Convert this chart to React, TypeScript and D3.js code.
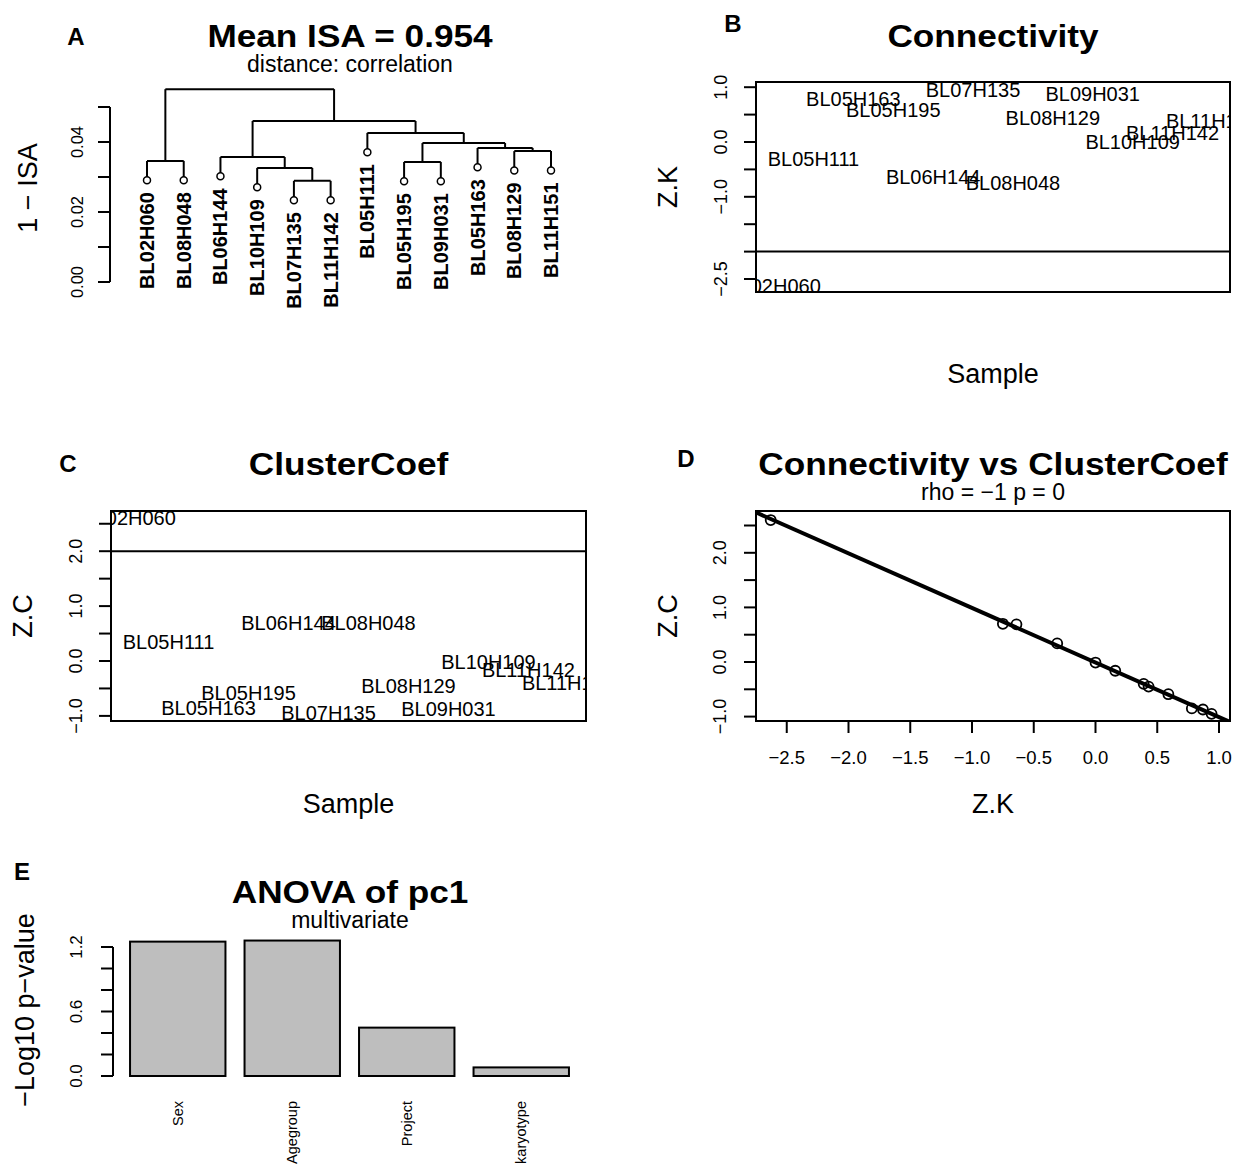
import * as d3 from "d3";

// sample names (alphabetical, as plotted along x in B and C)
const sampleNames = [
  "BL02H060", "BL05H111", "BL05H163", "BL05H195", "BL06H144", "BL07H135",
  "BL08H048", "BL08H129", "BL09H031", "BL10H109", "BL11H142", "BL11H151",
];
const zK = [-2.63, -0.31, 0.78, 0.59, -0.64, 0.94, -0.75, 0.43, 0.87, 0.0, 0.16, 0.39];
const zC = [2.6, 0.34, -0.85, -0.59, 0.69, -0.95, 0.7, -0.45, -0.87, -0.01, -0.16, -0.4];

// dendrogram: leaves in display order, R-style merge matrix
const leafLabels = [
  "BL02H060", "BL08H048", "BL06H144", "BL10H109", "BL07H135", "BL11H142",
  "BL05H111", "BL05H195", "BL09H031", "BL05H163", "BL08H129", "BL11H151",
];
const mergeA = [-5, -4, -8, -1, -3, -11, -10, 3, -7, 5, 4];
const mergeB = [-6, 1, -9, -2, 2, -12, 6, 7, 8, 9, 10];
const mergeH = [0.0289, 0.0326, 0.0343, 0.0346, 0.0357, 0.0374, 0.0383, 0.0397, 0.0426, 0.046, 0.0551];

// ANOVA bars
const anovaFactors = ["Sex", "Agegroup", "Project", "karyotype"];
const anovaLogP = [1.25, 1.26, 0.45, 0.08];

const FONT = "'Liberation Sans', Arial, Helvetica, sans-serif";
const fmt1 = d3.format(".1f");
const fmt2 = d3.format(".2f");

function VText({ x, y, size, children, anchor = "middle", weight = "normal" }: any) {
  // text rotated to read bottom-to-top, centred on x
  return (
    <text
      transform={`translate(${x},${y}) rotate(-90)`}
      textAnchor={anchor}
      dy="0.35em"
      fontSize={size}
      fontWeight={weight}
    >
      {children}
    </text>
  );
}

function Title({ x, y, children }: any) {
  return (
    <text transform={`translate(${x},${y}) scale(1.1,1)`} textAnchor="middle" fontSize={32} fontWeight="bold">
      {children}
    </text>
  );
}

function YAxis({ scale, x, ticks, labels, format, labelX, size = 17 }: any) {
  const [lo, hi] = d3.extent(ticks) as [number, number];
  return (
    <g>
      <line x1={x} x2={x} y1={scale(lo)} y2={scale(hi)} stroke="#000" strokeWidth={2} />
      {ticks.map((t: number) => (
        <line key={t} x1={x - 12} x2={x} y1={scale(t)} y2={scale(t)} stroke="#000" strokeWidth={2} />
      ))}
      {labels.map((t: number) => (
        <VText key={t} x={labelX} y={scale(t)} size={size}>
          {format(t)}
        </VText>
      ))}
    </g>
  );
}

function Dendrogram() {
  const x = d3.scaleLinear().domain([1, 12]).range([147, 551]);
  const y = d3.scaleLinear().domain([0, 0.05]).range([282, 107]);
  const hang = 0.1 * (d3.max(mergeH) as number);
  const nodeX: number[] = [];
  const segs: [number, number, number, number][] = [];
  const leaves: { i: number; h: number }[] = [];
  mergeH.forEach((h, k) => {
    const kids = [mergeA[k], mergeB[k]];
    const xs = kids.map((c) => (c < 0 ? -c : nodeX[c - 1]));
    kids.forEach((c, j) => {
      const bottom = c < 0 ? h - hang : mergeH[c - 1];
      segs.push([xs[j], h, xs[j], bottom]);
      if (c < 0) leaves.push({ i: -c, h: h - hang });
    });
    segs.push([xs[0], h, xs[1], h]);
    nodeX[k] = (xs[0] + xs[1]) / 2;
  });
  return (
    <g>
      {segs.map((s, i) => (
        <line key={i} x1={x(s[0])} y1={y(s[1])} x2={x(s[2])} y2={y(s[3])} stroke="#000" strokeWidth={2} />
      ))}
      {leaves.map((l) => (
        <g key={l.i}>
          <circle cx={x(l.i)} cy={y(l.h)} r={3.5} fill="#fff" stroke="#000" strokeWidth={1.5} />
          <VText x={x(l.i)} y={y(l.h) + 12} size={20} anchor="end" weight="bold">
            {leafLabels[l.i - 1]}
          </VText>
        </g>
      ))}
      <YAxis
        scale={y}
        x={110}
        ticks={d3.range(0, 0.0501, 0.01)}
        labels={[0, 0.02, 0.04]}
        format={fmt2}
        labelX={77}
        size={16.5}
      />
      <VText x={28} y={188} size={27}>1 − ISA</VText>
      <Title x={350} y={47}>Mean ISA = 0.954</Title>
      <text x={350} y={72} textAnchor="middle" fontSize={23}>distance: correlation</text>
    </g>
  );
}

function SamplePanel({ id, box, values, yDomainPx, labels, thresh, title, ylab, titleY, xlabY }: any) {
  const [l, t, r, b] = box;
  const unit = (r - l) / (11 * 1.08);
  const x = d3.scaleLinear().domain([1, 12]).range([l + 0.44 * unit, r - 0.44 * unit]);
  const y = d3.scaleLinear().domain([-1, 1]).range(yDomainPx);
  const ticks = d3.range(-2.5, 2.51, 0.5).filter((v) => y(v) >= t && y(v) <= b);
  const cx = (l + r) / 2;
  return (
    <g>
      <defs>
        <clipPath id={id}>
          <rect x={l} y={t} width={r - l} height={b - t} />
        </clipPath>
      </defs>
      <g clipPath={`url(#${id})`}>
        {values.map((v: number, i: number) => (
          <text key={i} x={x(i + 1)} y={y(v)} dy="0.35em" textAnchor="middle" fontSize={20}>
            {sampleNames[i]}
          </text>
        ))}
        <line x1={l} x2={r} y1={y(thresh)} y2={y(thresh)} stroke="#000" strokeWidth={2} />
      </g>
      <rect x={l} y={t} width={r - l} height={b - t} fill="none" stroke="#000" strokeWidth={2} />
      {ticks.map((v: number) => (
        <line key={v} x1={l - 12} x2={l} y1={y(v)} y2={y(v)} stroke="#000" strokeWidth={2} />
      ))}
      {labels.map((v: number) => (
        <VText key={v} x={l - 35} y={y(v)} size={18}>{fmt1(v)}</VText>
      ))}
      <VText x={l - 88} y={(t + b) / 2} size={27}>{ylab}</VText>
      <text x={cx} y={xlabY} textAnchor="middle" fontSize={27}>Sample</text>
      <Title x={cx} y={titleY}>{title}</Title>
    </g>
  );
}

function ScatterPanel() {
  const [l, t, r, b] = [756, 511, 1230, 721];
  const x = d3.scaleLinear().domain([-2.5, 1.0]).range([786.75, 1219]);
  const y = d3.scaleLinear().domain([-1, 2.5]).range([716.6, 525.5]);
  const mx = d3.mean(zK) as number;
  const my = d3.mean(zC) as number;
  const slope =
    (d3.sum(zK, (v, i) => (v - mx) * (zC[i] - my)) as number) /
    (d3.sum(zK, (v) => (v - mx) ** 2) as number);
  const x0 = x.invert(l);
  const x1 = x.invert(r);
  const fy = (v: number) => my + slope * (v - mx);
  return (
    <g>
      <defs>
        <clipPath id="clipD">
          <rect x={l} y={t} width={r - l} height={b - t} />
        </clipPath>
      </defs>
      <g clipPath="url(#clipD)">
        <line x1={x(x0)} y1={y(fy(x0))} x2={x(x1)} y2={y(fy(x1))} stroke="#000" strokeWidth={4} />
        {zK.map((v, i) => (
          <circle key={i} cx={x(v)} cy={y(zC[i])} r={5} fill="none" stroke="#000" strokeWidth={1.8} />
        ))}
      </g>
      <rect x={l} y={t} width={r - l} height={b - t} fill="none" stroke="#000" strokeWidth={2} />
      {d3.range(-1, 2.51, 0.5).map((v) => (
        <line key={v} x1={l - 12} x2={l} y1={y(v)} y2={y(v)} stroke="#000" strokeWidth={2} />
      ))}
      {[-1, 0, 1, 2].map((v) => (
        <VText key={v} x={l - 36} y={y(v)} size={18}>{fmt1(v)}</VText>
      ))}
      {d3.range(-2.5, 1.01, 0.5).map((v) => (
        <g key={v}>
          <line x1={x(v)} x2={x(v)} y1={b} y2={b + 12} stroke="#000" strokeWidth={2} />
          <text x={x(v)} y={b + 43} textAnchor="middle" fontSize={18.5}>{fmt1(v)}</text>
        </g>
      ))}
      <VText x={668} y={(t + b) / 2} size={27}>Z.C</VText>
      <text x={(l + r) / 2} y={813} textAnchor="middle" fontSize={27}>Z.K</text>
      <Title x={993} y={475}>Connectivity vs ClusterCoef</Title>
      <text x={993} y={500} textAnchor="middle" fontSize={23}>rho = −1 p = 0</text>
    </g>
  );
}

function BarPanel() {
  const x = d3.scaleBand().domain(anovaFactors).range([120.5, 578.5]).paddingInner(1 / 6).paddingOuter(1 / 12);
  const y = d3.scaleLinear().domain([0, 1.2]).range([1076, 947]);
  return (
    <g>
      {anovaFactors.map((f, i) => (
        <g key={f}>
          <rect
            x={x(f)}
            y={y(anovaLogP[i])}
            width={x.bandwidth()}
            height={y(0) - y(anovaLogP[i])}
            fill="#bebebe"
            stroke="#000"
            strokeWidth={2}
          />
          <VText x={(x(f) as number) + x.bandwidth() / 2} y={1101} size={14.5} anchor="end">{f}</VText>
        </g>
      ))}
      <YAxis
        scale={y}
        x={113}
        ticks={d3.range(0, 1.201, 0.2)}
        labels={[0, 0.6, 1.2]}
        format={fmt1}
        labelX={76}
        size={17}
      />
      <VText x={25} y={1010} size={27}>−Log10 p−value</VText>
      <Title x={350} y={903}>ANOVA of pc1</Title>
      <text x={350} y={928} textAnchor="middle" fontSize={23}>multivariate</text>
    </g>
  );
}

export default function App() {
  return (
    <svg
      width={1233}
      height={1167}
      style={{ position: "absolute", left: 0, top: 0, display: "block", background: "#fff" }}
      fontFamily={FONT}
    >
      <rect width={1233} height={1167} fill="#fff" />
      <Dendrogram />
      <SamplePanel
        id="clipB"
        box={[756, 82, 1230, 292]}
        values={zK}
        yDomainPx={[196.8, 87.2]}
        labels={[1, 0, -1, -2.5]}
        thresh={-2}
        title="Connectivity"
        ylab="Z.K"
        titleY={47}
        xlabY={383}
      />
      <SamplePanel
        id="clipC"
        box={[111, 511, 586, 721]}
        values={zC}
        yDomainPx={[715.9, 606.1]}
        labels={[-1, 0, 1, 2]}
        thresh={2}
        title="ClusterCoef"
        ylab="Z.C"
        titleY={475}
        xlabY={813}
      />
      <ScatterPanel />
      <BarPanel />
      <g fontWeight="bold" fontSize={24} textAnchor="middle">
        <text x={76} y={45}>A</text>
        <text x={733} y={32}>B</text>
        <text x={68} y={472}>C</text>
        <text x={686} y={467}>D</text>
        <text x={22} y={880}>E</text>
      </g>
    </svg>
  );
}
